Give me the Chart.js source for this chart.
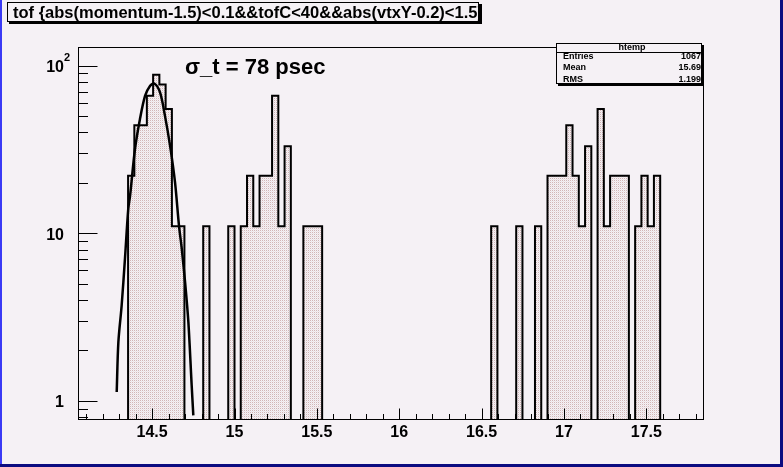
<!DOCTYPE html>
<html>
<head>
<meta charset="utf-8">
<script src="https://cdn.jsdelivr.net/npm/chart.js@4.4.1/dist/chart.umd.min.js"></script>
<style>
  html, body { margin: 0; padding: 0; background: #f5f1f5; }
  canvas { display: block; }
</style>
</head>
<body>
<canvas id="c" width="783" height="467"></canvas>
<script>
// ---------------- data ----------------
const histTitle = 'tof {abs(momentum-1.5)<0.1&&tofC<40&&abs(vtxY-0.2)<1.5}';
const histName = 'htemp';
const histLow = 14.05;          // lower edge of first bin
const histHigh = 17.85;         // upper edge of last bin
const binCount = 100;
// bin contents (index = bin number, 0-based)
const binContents = [
  0, 0, 0, 0, 0, 0, 0, 0, 22, 44,
  44, 66, 88, 77, 55, 11, 11, 0, 0, 0,
  11, 0, 0, 0, 11, 0, 11, 22, 11, 22,
  22, 66, 11, 33, 0, 0, 11, 11, 11, 0,
  0, 0, 0, 0, 0, 0, 0, 0, 0, 0,
  0, 0, 0, 0, 0, 0, 0, 0, 0, 0,
  0, 0, 0, 0, 0, 0, 11, 0, 0, 0,
  11, 0, 0, 11, 0, 22, 22, 22, 44, 22,
  11, 33, 0, 55, 11, 22, 22, 22, 0, 11,
  22, 11, 22, 0, 0, 0, 0, 0, 0, 0
];
// Gaussian fit curve
const fitX = [14.285, 14.295, 14.315, 14.335, 14.355, 14.366, 14.396, 14.426, 14.457, 14.487, 14.513,
              14.548, 14.578, 14.609, 14.639, 14.663, 14.680, 14.700, 14.720, 14.740, 14.750];
const fitY = [1.13, 2.24, 3.71, 7.03, 13.95, 16.7, 31.8, 47.9, 65.9, 75.6, 78.1,
              69.1, 50.1, 33.2, 20.1, 11.1, 8.06, 5.11, 2.95, 1.24, 0.82];
// axes
const xRange = [histLow, histHigh];
const yRange = [0.77, 129];
const xMajorTicks = [14.5, 15, 15.5, 16, 16.5, 17, 17.5];
const xTickLabels = ['14.5', '15', '15.5', '16', '16.5', '17', '17.5'];
const xMinorStep = 0.1;
const yMajorTicks = [1, 10, 100];
const yTickLabels = [['1', ''], ['10', ''], ['10', '2']];
// stats box
const statsNames = ['Entries', 'Mean', 'RMS'];
const statsValues = ['1067', '15.69', '1.199'];
const sigmaText = '\u03C3_t = 78 psec';

// ---------------- styling ----------------
const BG = '#f5f1f5';
const FONT = '"Liberation Sans", Arial, Helvetica, sans-serif';

const canvas = document.getElementById('c');
const ctx = canvas.getContext('2d');

// dotted fill pattern (ROOT fill style)
const pc = document.createElement('canvas');
pc.width = 2; pc.height = 2;
const pctx = pc.getContext('2d');
pctx.fillStyle = BG; pctx.fillRect(0, 0, 2, 2);
pctx.fillStyle = '#d2b6b6'; pctx.fillRect(0, 0, 1, 1);
pctx.fillStyle = '#ece4e6'; pctx.fillRect(1, 1, 1, 1);
const fillPattern = ctx.createPattern(pc, 'repeat');

// histogram outline points (build from bin contents)
const binW = (histHigh - histLow) / binCount;
const FLOOR = 0.2; // below axis minimum so empty bins drop out of view
const histPoints = [];
for (let i = 0; i < binCount; i++) {
  histPoints.push({ x: histLow + i * binW, y: binContents[i] > 0 ? binContents[i] : FLOOR });
}
histPoints.push({ x: histHigh, y: FLOOR });
const fitPoints = fitX.map((x, i) => ({ x: x, y: fitY[i] }));

const rootPlugin = {
  id: 'rootLook',
  beforeDraw(chart) {
    const c = chart.ctx;
    c.save();
    c.fillStyle = BG;
    c.fillRect(0, 0, chart.width, chart.height);
    // canvas border (ROOT style)
    c.fillStyle = '#3a3af5';
    c.fillRect(0, 0, 2, chart.height);
    c.fillStyle = '#0c0c80';
    c.fillRect(chart.width - 3, 0, 3, chart.height);
    c.fillRect(0, chart.height - 3, chart.width, 3);
    c.restore();
  },
  afterDraw(chart) {
    const c = chart.ctx;
    const a = chart.chartArea;
    const xs = chart.scales.x, ys = chart.scales.y;
    c.save();
    c.strokeStyle = '#000';
    c.fillStyle = '#000';
    c.lineWidth = 1;
    // frame
    const L = Math.round(a.left) + 0.5, R = Math.round(a.right) - 0.5;
    const T = Math.round(a.top) + 0.5, B = Math.round(a.bottom) - 0.5;
    c.strokeRect(L, T, R - L, B - T);
    // x ticks (inside, upward)
    const hMajX = 11, hMinX = 5.5;
    c.beginPath();
    const nMin = Math.round((histHigh - histLow) / xMinorStep) + 2;
    const firstMinor = Math.ceil(histLow / xMinorStep - 1e-9) * xMinorStep;
    for (let k = 0; k < nMin; k++) {
      const v = firstMinor + k * xMinorStep;
      if (v > histHigh) break;
      const isMaj = xMajorTicks.some(m => Math.abs(m - v) < 1e-6);
      const px = Math.round(xs.getPixelForValue(v)) + 0.5;
      c.moveTo(px, B);
      c.lineTo(px, B - (isMaj ? hMajX : hMinX));
    }
    // y ticks (inside, rightward)
    const wMajY = 19, wMinY = 9.5;
    for (let d = -1; d <= 2; d++) {
      for (let m = 1; m <= 9; m++) {
        const v = m * Math.pow(10, d);
        if (v < yRange[0] || v > 100.5) continue;
        const py = Math.round(ys.getPixelForValue(v)) + 0.5;
        c.moveTo(L, py);
        c.lineTo(L + (m === 1 ? wMajY : wMinY), py);
      }
    }
    c.stroke();

    // x labels
    c.font = 'bold 16px ' + FONT;
    c.textAlign = 'center';
    c.textBaseline = 'top';
    xMajorTicks.forEach((v, i) => {
      c.fillText(xTickLabels[i], xs.getPixelForValue(v), 425);
    });
    // y labels
    c.textAlign = 'right';
    c.textBaseline = 'middle';
    yMajorTicks.forEach((v, i) => {
      const py = ys.getPixelForValue(v) + 2;
      c.font = 'bold 16px ' + FONT;
      c.fillText(yTickLabels[i][0], 64, py);
      if (yTickLabels[i][1]) {
        c.font = 'bold 11px ' + FONT;
        c.textAlign = 'left';
        c.fillText(yTickLabels[i][1], 64, py - 10);
        c.textAlign = 'right';
      }
    });

    // sigma annotation
    c.font = 'bold 22px ' + FONT;
    c.textAlign = 'left';
    c.textBaseline = 'alphabetic';
    c.fillText(sigmaText, 185, 74);

    // title box
    c.fillStyle = '#000';
    c.fillRect(9, 4, 473, 20);
    c.fillStyle = BG;
    c.fillRect(7, 2, 472, 20);
    c.strokeRect(7.5, 2.5, 471, 19);
    c.fillStyle = '#000';
    c.font = 'bold 16.5px ' + FONT;
    c.textAlign = 'left';
    c.textBaseline = 'alphabetic';
    c.save();
    c.beginPath();
    c.rect(7, 0, 472, 30);
    c.clip();
    c.fillText(histTitle, 13, 18);
    c.restore();

    // stats box
    const sx0 = 556, sy0 = 43, sx1 = 702, sy1 = 84;
    c.fillStyle = '#000';
    c.fillRect(sx0 + 2, sy0 + 2, sx1 - sx0, sy1 - sy0);
    c.fillStyle = BG;
    c.fillRect(sx0, sy0, sx1 - sx0, sy1 - sy0);
    c.strokeRect(sx0 + 0.5, sy0 + 0.5, sx1 - sx0 - 1, sy1 - sy0 - 1);
    c.beginPath();
    c.moveTo(sx0, 52.5); c.lineTo(sx1, 52.5); c.stroke();
    c.fillStyle = '#000';
    c.font = 'bold 9px ' + FONT;
    c.textBaseline = 'middle';
    c.textAlign = 'center';
    c.fillText(histName, 632, 48);
    const rowY = [57, 68, 79.5];
    statsNames.forEach((n, i) => {
      c.textAlign = 'left';
      c.fillText(n, 563, rowY[i]);
      c.textAlign = 'right';
      c.fillText(statsValues[i], 701, rowY[i]);
    });
    c.restore();
  }
};

new Chart(ctx, {
  type: 'line',
  data: {
    datasets: [
      {
        label: 'fit',
        data: fitPoints,
        borderColor: '#000',
        borderWidth: 2.5,
        pointRadius: 0,
        tension: 0.3,
        fill: false,
        order: 0
      },
      {
        label: histName,
        data: histPoints,
        stepped: 'before',
        borderColor: '#000',
        borderWidth: 2,
        pointRadius: 0,
        fill: 'start',
        backgroundColor: fillPattern,
        order: 1
      }
    ]
  },
  options: {
    responsive: false,
    maintainAspectRatio: false,
    animation: false,
    devicePixelRatio: 1,
    layout: { padding: { left: 78, top: 47, right: 783 - 704, bottom: 467 - 420 } },
    scales: {
      x: { type: 'linear', min: xRange[0], max: xRange[1], display: false },
      y: { type: 'logarithmic', min: yRange[0], max: yRange[1], display: false }
    },
    plugins: { legend: { display: false }, tooltip: { enabled: false } },
    events: []
  },
  plugins: [rootPlugin]
});
</script>
</body>
</html>
